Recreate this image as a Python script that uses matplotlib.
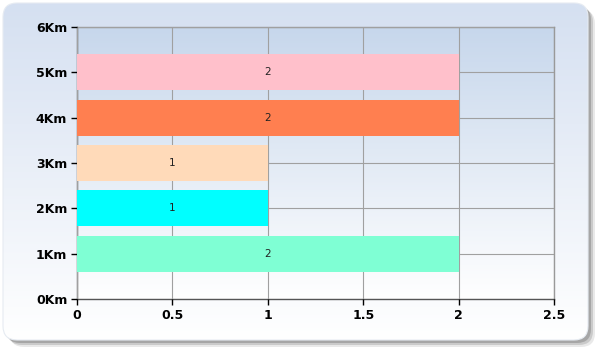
'''
Horizontal bar chart of counts per distance bucket
'''

import numpy as np
import matplotlib.pyplot as plt
from matplotlib.patches import FancyBboxPatch

# data
distances = [1, 2, 3, 4, 5]
counts = [2, 1, 1, 2, 2]
colors = ["#7FFFD4", "#00FFFF", "#FFDAB9", "#FF7F50", "#FFC0CB"]
y_ticks = [0, 1, 2, 3, 4, 5, 6]
y_labels = [f"{v}Km" for v in y_ticks]
x_ticks = [0, 0.5, 1, 1.5, 2, 2.5]
x_labels = ["0", "0.5", "1", "1.5", "2", "2.5"]

plt.rcParams['font.family'] = ['DejaVu Sans']

fig = plt.figure(figsize=(6, 3.5), dpi=100)
fig.patch.set_facecolor("white")

# background panel with shadow
bg = fig.add_axes([0, 0, 1, 1])
bg.set_xlim(0, 600)
bg.set_ylim(350, 0)
bg.axis("off")

for off, a in [(7, 0.15), (5, 0.25), (3, 0.4)]:
    sh = FancyBboxPatch((3 + off, 3 + off), 585, 337, boxstyle="round,pad=0,rounding_size=14",
                        facecolor="#707070", edgecolor="none", alpha=a)
    bg.add_patch(sh)

panel = FancyBboxPatch((3, 3), 585, 337, boxstyle="round,pad=0,rounding_size=14",
                       facecolor="none", edgecolor="#e6ebf2", linewidth=0.8, zorder=3)
bg.add_patch(panel)
grad = np.linspace(0, 1, 256).reshape(-1, 1)
top_c = np.array([0.835, 0.878, 0.945])
bot_c = np.array([1.0, 1.0, 1.0])
img = top_c + (bot_c - top_c) * grad
im = bg.imshow(img[:, None, :].repeat(2, axis=1), extent=[3, 588, 340, 3], aspect="auto", zorder=2)
im.set_clip_path(panel)

# main plot
ax = fig.add_axes([77 / 600, 51 / 350, 477 / 600, 272 / 350])
ax.set_xlim(0, 2.5)
ax.set_ylim(0, 6)

top_p = np.array([0.78, 0.843, 0.925])
pimg = top_p + (bot_c - top_p) * grad
ax.imshow(pimg[:, None, :].repeat(2, axis=1), extent=[0, 2.5, 0, 6], aspect="auto", zorder=0)

ax.barh(distances, counts, height=0.8, color=colors, zorder=3)
for d, c in zip(distances, counts):
    ax.text(c / 2, d, str(c), ha="center", va="center", fontsize=7.5, color="#222222", zorder=4)

ax.set_xticks(x_ticks)
ax.set_xticklabels(x_labels)
ax.set_yticks(y_ticks)
ax.set_yticklabels(y_labels)
ax.grid(True, color="#a0a0a0", linewidth=0.8, zorder=1)
ax.set_axisbelow(False)
for gl in ax.get_xgridlines() + ax.get_ygridlines():
    gl.set_zorder(1)

for lab in ax.get_xticklabels() + ax.get_yticklabels():
    lab.set_fontweight("bold")
    lab.set_fontsize(9)
ax.tick_params(axis="both", length=4, width=1, color="black", pad=3)
ax.spines["left"].set_color("#555555")
ax.spines["bottom"].set_color("#555555")
ax.spines["top"].set_color("#999999")
ax.spines["right"].set_color("#999999")
for s in ax.spines.values():
    s.set_linewidth(1)

fig.savefig("out.png", dpi=100)
